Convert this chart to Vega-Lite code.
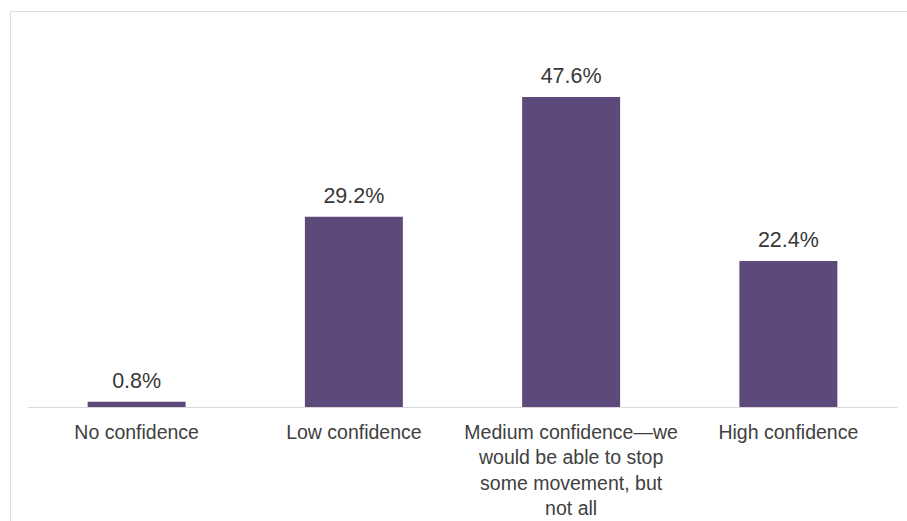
{
  "$schema": "https://vega.github.io/schema/vega-lite/v6.json",
  "width": 897,
  "height": 510,
  "autosize": {"type": "none"},
  "padding": {"left": 10, "top": 11, "right": 0, "bottom": 0},
  "background": "white",
  "config": {"view": {"stroke": "#dcdcdc", "strokeWidth": 1}},
  "data": {
    "values": [
      {"category": "No confidence", "value": 0.008},
      {"category": "Low confidence", "value": 0.292},
      {"category": "Medium confidence—we would be able to stop some movement, but not all", "value": 0.476},
      {"category": "High confidence", "value": 0.224}
    ]
  },
  "encoding": {
    "x": {
      "field": "category",
      "type": "nominal",
      "sort": null,
      "scale": {"range": [18, 887], "paddingInner": 0.549, "paddingOuter": 0.2745},
      "axis": {
        "title": null,
        "orient": "bottom",
        "offset": -114,
        "ticks": false,
        "grid": false,
        "domainColor": "#d9d9d9",
        "domainWidth": 1,
        "labelAngle": 0,
        "labelFont": "Liberation Sans",
        "labelFontSize": 19.5,
        "labelColor": "#404040",
        "labelPadding": 16,
        "labelLineHeight": 25.5,
        "labelBaseline": "top",
        "labelLimit": 0,
        "labelExpr": "datum.value == 'Medium confidence—we would be able to stop some movement, but not all' ? ['Medium confidence—we', 'would be able to stop', 'some movement, but', 'not all'] : datum.label"
      }
    },
    "y": {
      "field": "value",
      "type": "quantitative",
      "scale": {"domain": [-0.175, 0.608], "nice": false, "zero": false},
      "axis": null
    }
  },
  "layer": [
    {
      "mark": {"type": "bar", "color": "#5d4a7a"},
      "encoding": {"y2": {"datum": 0}}
    },
    {
      "mark": {"type": "text", "dy": -14, "baseline": "alphabetic", "font": "Liberation Sans", "fontSize": 21.5, "color": "#383838"},
      "encoding": {"text": {"field": "value", "format": ".1%"}}
    }
  ]
}
